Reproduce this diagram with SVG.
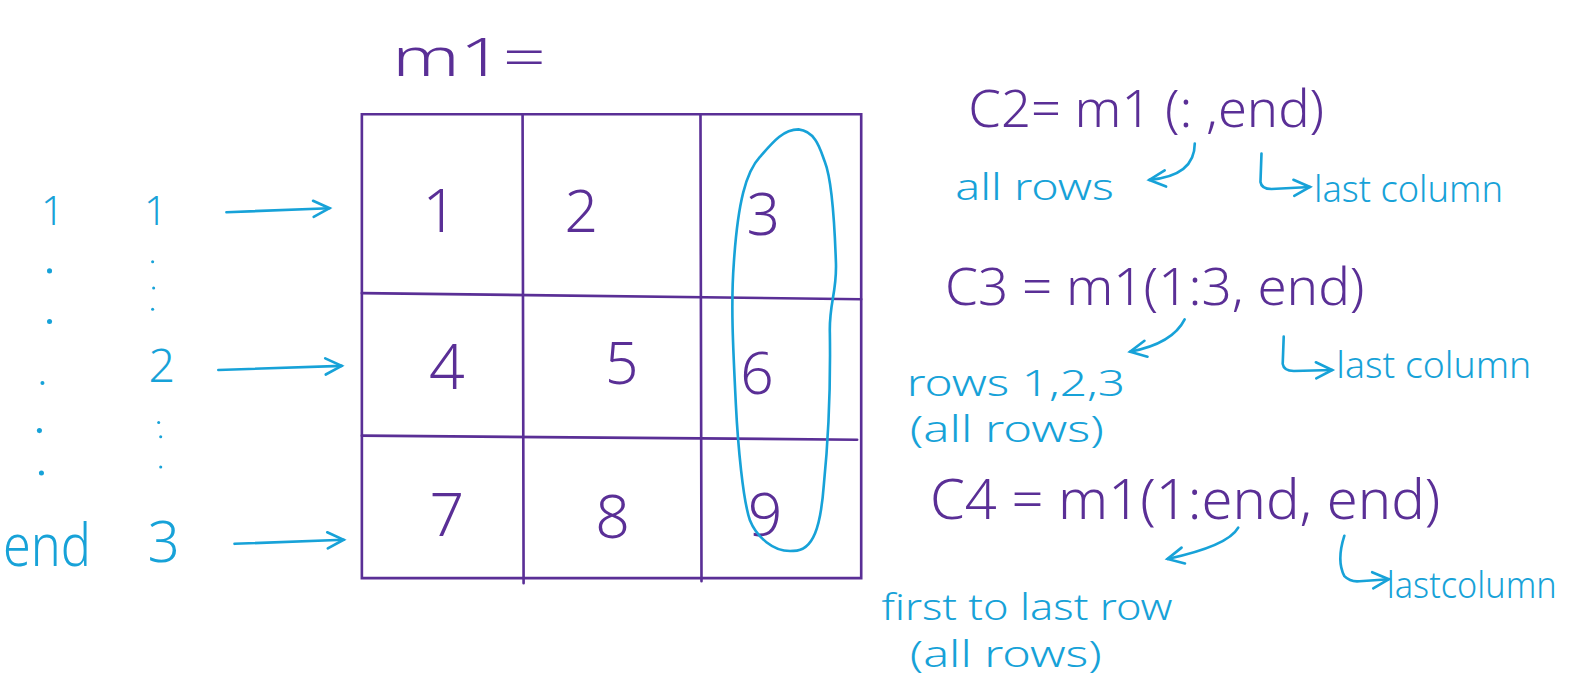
<svg xmlns="http://www.w3.org/2000/svg" width="1585" height="694" viewBox="0 0 1585 694">
<defs>
<style>
.p{fill:#5a2f96;font-family:"Noto Sans","Liberation Sans",sans-serif;font-weight:300}
.b{fill:#17a2d8;font-family:"Noto Sans","Liberation Sans",sans-serif;font-weight:300}
.pl{stroke:#5a2f96;stroke-width:2.6;fill:none;stroke-linecap:round}
.bl{stroke:#17a2d8;stroke-width:2.6;fill:none;stroke-linecap:round}
.dot{fill:#17a2d8}
</style>
<marker id="ah" markerUnits="userSpaceOnUse" markerWidth="26" markerHeight="26" viewBox="0 0 26 26" refX="22" refY="13" orient="auto">
<path d="M6,5 L22,13 L6,21" fill="none" stroke="#17a2d8" stroke-width="2.6" stroke-linecap="round"/>
</marker>
</defs>
<g transform="scale(1.0108)">
<g id="title"><text class="p" x="388" y="75" font-size="52" textLength="152" lengthAdjust="spacingAndGlyphs">m1=</text></g>
<g id="matrix">
<path class="pl" d="M358,113 L852,113 L852,572 L358,572 Z"/>
<path class="pl" d="M517,113 L518,577"/>
<path class="pl" d="M693,113 L694,575"/>
<path class="pl" d="M358,290 L852,296"/>
<path class="pl" d="M358,431 L848,435"/>
<text class="p" x="435" y="230" font-size="60" text-anchor="middle">1</text>
<text class="p" x="575" y="230" font-size="58" text-anchor="middle">2</text>
<text class="p" x="755" y="232" font-size="58" text-anchor="middle">3</text>
<text class="p" x="442" y="385" font-size="62" text-anchor="middle">4</text>
<text class="p" x="615" y="380" font-size="58" text-anchor="middle">5</text>
<text class="p" x="749" y="390" font-size="58" text-anchor="middle">6</text>
<text class="p" x="442" y="530" font-size="60" text-anchor="middle">7</text>
<text class="p" x="606" y="532" font-size="60" text-anchor="middle">8</text>
<text class="p" x="757" y="530" font-size="60" text-anchor="middle">9</text>
</g>
<g id="highlight">
<path class="bl" d="M790,128 C808,130 812,150 816,160 C824,180 826,230 827,260 C828,290 820,300 821,330 C822,400 818,450 815,480 C812,520 805,545 785,545 C765,547 748,530 742,515 C735,495 730,440 728,400 C725,340 723,300 726,260 C730,200 738,170 752,155 C765,140 775,128 790,128 Z"/>
</g>
<g id="row-labels">
<text class="b" x="52" y="223" font-size="40" text-anchor="middle">1</text>
<text class="b" x="154" y="223" font-size="40" text-anchor="middle">1</text>
<text class="b" x="160" y="378" font-size="46" text-anchor="middle">2</text>
<text class="b" x="3" y="560" font-size="58" textLength="87" lengthAdjust="spacingAndGlyphs">end</text>
<text class="b" x="162" y="556" font-size="56" text-anchor="middle">3</text>
<circle class="dot" cx="49" cy="268" r="2.5"/>
<circle class="dot" cx="49" cy="318" r="2.5"/>
<circle class="dot" cx="42" cy="379" r="2"/>
<circle class="dot" cx="39" cy="426" r="2.5"/>
<circle class="dot" cx="41" cy="468" r="2.5"/>
<circle class="dot" cx="151" cy="259" r="1.5"/>
<circle class="dot" cx="152" cy="285" r="1.5"/>
<circle class="dot" cx="151" cy="306" r="1.5"/>
<circle class="dot" cx="157" cy="418" r="1.5"/>
<circle class="dot" cx="159" cy="432" r="1.5"/>
<circle class="dot" cx="159" cy="462" r="1.5"/>
</g>
<g id="c2">
<text class="p" x="958" y="126" font-size="50" textLength="352" lengthAdjust="spacingAndGlyphs">C2= m1 (: ,end)</text>
<text class="b" x="945" y="198" font-size="36" textLength="157" lengthAdjust="spacingAndGlyphs">all rows</text>
<text class="b" x="1300" y="200" font-size="36" textLength="187" lengthAdjust="spacingAndGlyphs">last column</text>
</g>
<g id="c3">
<text class="p" x="935" y="302" font-size="50" textLength="415" lengthAdjust="spacingAndGlyphs">C3 = m1(1:3, end)</text>
<text class="b" x="897" y="392" font-size="36" textLength="216" lengthAdjust="spacingAndGlyphs">rows 1,2,3</text>
<text class="b" x="900" y="437" font-size="36" textLength="192" lengthAdjust="spacingAndGlyphs">(all rows)</text>
<text class="b" x="1322" y="374" font-size="36" textLength="193" lengthAdjust="spacingAndGlyphs">last column</text>
</g>
<g id="c4">
<text class="p" x="920" y="513" font-size="54" textLength="505" lengthAdjust="spacingAndGlyphs">C4 = m1(1:end, end)</text>
<text class="b" x="872" y="613" font-size="36" textLength="288" lengthAdjust="spacingAndGlyphs">first to last row</text>
<text class="b" x="900" y="660" font-size="36" textLength="190" lengthAdjust="spacingAndGlyphs">(all rows)</text>
<text class="b" x="1372" y="592" font-size="36" textLength="168" lengthAdjust="spacingAndGlyphs">lastcolumn</text>
</g>
<g id="connectors">
<path class="bl" d="M224,210 L326,206" marker-end="url(#ah)"/>
<path class="bl" d="M216,366 L338,362" marker-end="url(#ah)"/>
<path class="bl" d="M232,538 L340,534" marker-end="url(#ah)"/>
<path class="bl" d="M1182,142 Q1182,174 1137,178" marker-end="url(#ah)"/>
<path class="bl" d="M1172,316 Q1160,340 1118,348" marker-end="url(#ah)"/>
<path class="bl" d="M1225,522 Q1215,540 1155,553" marker-end="url(#ah)"/>
<path class="bl" d="M1248,152 L1247,180 Q1248,187 1258,187 L1296,185" marker-end="url(#ah)"/>
<path class="bl" d="M1270,333 L1269,360 Q1270,367 1280,367 L1318,366" marker-end="url(#ah)"/>
<path class="bl" d="M1330,530 Q1322,555 1330,570 Q1336,576 1345,575 L1374,573" marker-end="url(#ah)"/>
</g>
</g>
</svg>
